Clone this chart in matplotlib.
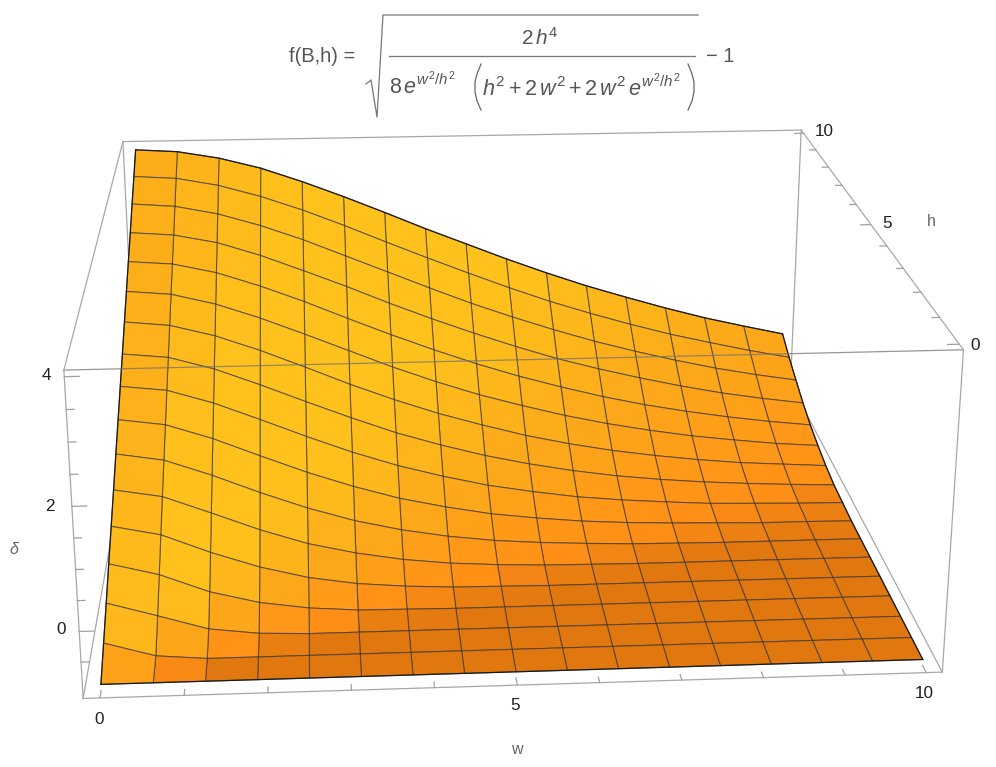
import numpy as np
import matplotlib
matplotlib.use('Agg')
import matplotlib.pyplot as plt
from matplotlib.lines import Line2D

plt.rcParams['font.family'] = ['Liberation Sans', 'DejaVu Sans']
plt.rcParams['mathtext.fontset'] = 'custom'
plt.rcParams['mathtext.rm'] = 'Liberation Sans'
plt.rcParams['mathtext.it'] = 'Liberation Sans:italic'

# mesh nodes of the surface
w_vals = [0, 0.625, 1.25, 1.875, 2.5, 3.125, 3.75, 4.375, 5, 5.625, 6.25, 6.875, 7.5, 8.125, 8.75, 9.375, 10]
h_vals = [0, 0.625, 1.25, 1.875, 2.5, 3.125, 3.75, 4.375, 5, 5.625, 6.25, 6.875, 7.5, 8.125, 8.75, 9.375, 10]

# delta read at each node, one row per h value, one column per w value
delta_h00 = [-1] * 17
delta_h01 = [-0.69, -0.93] + [-1] * 15
delta_h02 = [-0.38, -0.62, -0.87, -0.97] + [-1] * 13
delta_h03 = [-0.06, -0.27, -0.59, -0.80, -0.92, -0.98, -0.99] + [-1] * 10
delta_h04 = [0.25, 0.08, -0.25, -0.53, -0.74, -0.87, -0.94, -0.98, -0.99] + [-1] * 8
delta_h05 = [0.56, 0.42, 0.11, -0.21, -0.48, -0.67, -0.81, -0.90, -0.95, -0.98, -0.99] + [-1] * 6
delta_h06 = [0.88, 0.75, 0.46, 0.13, -0.17, -0.42, -0.61, -0.75, -0.85, -0.91, -0.95, -0.98, -0.99, -1, -1, -1, -1]
delta_h07 = [1.19, 1.08, 0.81, 0.48, 0.16, -0.12, -0.36, -0.54, -0.69, -0.79, -0.87, -0.92, -0.95, -0.97, -0.99, -0.99, -1]
delta_h08 = [1.5, 1.41, 1.16, 0.84, 0.51, 0.20, -0.07, -0.29, -0.48, -0.62, -0.74, -0.82, -0.88, -0.93, -0.95, -0.97, -0.98]
delta_h09 = [1.81, 1.73, 1.50, 1.19, 0.86, 0.54, 0.24, -0.01, -0.23, -0.41, -0.56, -0.68, -0.77, -0.84, -0.89, -0.93, -0.96]
delta_h10 = [2.13, 2.05, 1.84, 1.55, 1.22, 0.88, 0.57, 0.29, 0.05, -0.17, -0.35, -0.50, -0.62, -0.72, -0.80, -0.85, -0.90]
delta_h11 = [2.44, 2.37, 2.17, 1.89, 1.57, 1.24, 0.91, 0.61, 0.34, 0.11, -0.10, -0.28, -0.43, -0.56, -0.66, -0.75, -0.81]
delta_h12 = [2.75, 2.69, 2.51, 2.24, 1.93, 1.59, 1.26, 0.95, 0.66, 0.40, 0.17, -0.04, -0.22, -0.37, -0.50, -0.61, -0.70]
delta_h13 = [3.06, 3.00, 2.84, 2.58, 2.27, 1.95, 1.61, 1.29, 0.99, 0.71, 0.45, 0.23, 0.03, -0.15, -0.31, -0.44, -0.55]
delta_h14 = [3.38, 3.32, 3.16, 2.92, 2.63, 2.30, 1.97, 1.64, 1.32, 1.03, 0.76, 0.51, 0.29, 0.09, -0.09, -0.24, -0.37]
delta_h15 = [3.69, 3.64, 3.49, 3.26, 2.98, 2.66, 2.32, 1.99, 1.67, 1.36, 1.07, 0.81, 0.57, 0.35, 0.16, -0.02, -0.18]
delta_h16 = [4, 3.95, 3.81, 3.60, 3.32, 3.01, 2.68, 2.34, 2.02, 1.70, 1.40, 1.12, 0.87, 0.63, 0.41, 0.22, 0.04]

delta_rows = [delta_h00, delta_h01, delta_h02, delta_h03, delta_h04, delta_h05, delta_h06, delta_h07, delta_h08,
              delta_h09, delta_h10, delta_h11, delta_h12, delta_h13, delta_h14, delta_h15, delta_h16]

w_ticks = [0, 1, 2, 3, 4, 5, 6, 7, 8, 9, 10]
h_ticks = [0, 1, 2, 3, 4, 5, 6, 7, 8, 9, 10]
z_ticks = [-0.5, 0, 0.5, 1, 1.5, 2, 2.5, 3, 3.5, 4]

# box limits
W0, W1 = -0.2, 10.2
H0, H1 = -0.2, 10.2
Z0, Z1 = -1.1, 4.1

# surface colour against the tilt of each cell
tilt_stops = [0, 0.1, 0.35, 0.5, 0.68, 0.9]
red_stops = [225, 255, 255, 252, 255, 255]
green_stops = [120, 143, 160, 171, 192, 200]
blue_stops = [15, 22, 25, 26, 28, 30]

W, H = np.meshgrid(w_vals, h_vals)
Z = np.array(delta_rows)

dzdh = (Z[1:, :-1] + Z[1:, 1:] - Z[:-1, :-1] - Z[:-1, 1:]) / 2 / 0.625
dzdw = (Z[:-1, 1:] + Z[1:, 1:] - Z[:-1, :-1] - Z[1:, :-1]) / 2 / 0.625
tilt = dzdh - 0.3 * dzdw
cols = np.zeros(tilt.shape + (4,))
cols[..., 0] = np.interp(tilt, tilt_stops, red_stops) / 255
cols[..., 1] = np.interp(tilt, tilt_stops, green_stops) / 255
cols[..., 2] = np.interp(tilt, tilt_stops, blue_stops) / 255
cols[..., 3] = 1

fig = plt.figure(figsize=(9.96, 7.67), dpi=100)
S = 1000
ax = fig.add_axes([-25.5 / 996, -124.5 / 767, S / 996, S / 767], projection='3d', computed_zorder=False)
ax.set_proj_type('persp', focal_length=0.478)
ax.view_init(elev=19.7, azim=-93.9, roll=0)
ax.set_box_aspect((1, 1, 0.4), zoom=1.084)
ax.set_xlim(W0, W1, view_margin=0)
ax.set_ylim(H0, H1, view_margin=0)
ax.set_zlim(Z0, Z1, view_margin=0)
ax.set_axis_off()
ax.patch.set_alpha(0)

box_col = '#a8a8a8'
tick_col = '#a0a0a0'


def edge(xs, ys, zs, z=1, col=box_col):
    ax.plot(xs, ys, zs, color=col, lw=0.9, zorder=z, clip_on=False)


# box edges behind the surface
edge([W0, W1], [H0, H0], [Z0, Z0])
edge([W0, W1], [H1, H1], [Z0, Z0])
edge([W0, W0], [H0, H1], [Z0, Z0])
edge([W1, W1], [H0, H1], [Z0, Z0])
edge([W0, W0], [H1, H1], [Z0, Z1])
edge([W1, W1], [H1, H1], [Z0, Z1])

surf = ax.plot_surface(W, H, Z, rstride=1, cstride=1, facecolors=cols, shade=False, zorder=2, antialiased=True)
surf.set_edgecolor((0.15, 0.16, 0.2, 0.6))
surf.set_linewidth(0.8)

# dark outline of the surface
outline = dict(color='#1a1a1a', lw=0.9, zorder=2.5, clip_on=False)
ax.plot(W[0], H[0], Z[0], **outline)
ax.plot(W[-1], H[-1], Z[-1], **outline)
ax.plot(W[:, 0], H[:, 0], Z[:, 0], **outline)
ax.plot(W[:, -1], H[:, -1], Z[:, -1], **outline)

# box edges in front of the surface
edge([W0, W1], [H0, H0], [Z1, Z1], z=3, col=(0.45, 0.45, 0.45, 0.75))
edge([W0, W1], [H1, H1], [Z1, Z1], z=3)
edge([W0, W0], [H0, H1], [Z1, Z1], z=3)
edge([W1, W1], [H0, H1], [Z1, Z1], z=3)
edge([W0, W0], [H0, H0], [Z0, Z1], z=3)
edge([W1, W1], [H0, H0], [Z0, Z1], z=3)

# ticks
for t in w_ticks:
    d = 0.2 if t % 5 == 0 else 0.15
    edge([t, t], [H0, H0 + d], [Z0, Z0], z=3, col=tick_col)
for t in h_ticks:
    d = 0.14 if t % 5 == 0 else 0.09
    edge([W1, W1 - d], [t, t], [Z1, Z1], z=3, col=tick_col)
for t in z_ticks:
    d = 0.17 if t % 2 == 0 else 0.09
    edge([W0, W0 + d], [H0, H0], [t, t], z=3, col=tick_col)


def label(px, py, s, col='#1f1f1f', size=12.3, ha='center', **kw):
    fig.text(px / 996, 1 - py / 767, s, color=col, fontsize=size, ha=ha, va='center', **kw)


def stroke(xs, ys, col='#666666', lw=0.9):
    fig.add_artist(Line2D([x / 996 for x in xs], [1 - y / 767 for y in ys],
                          transform=fig.transFigure, color=col, lw=lw))


label(99, 719, '0')
label(515, 706, '5')
label(924, 694, '10')
label(46, 376, '4')
label(50, 506, '2')
label(61, 630, '0')
label(975, 345, '0')
label(887, 224, '5')
label(824, 131, '10')
label(517, 750, 'w', col='#666666', size=11.5)
label(931, 221, 'h', col='#666666', size=11.5)
label(14, 549, 'δ', col='#666666', size=11.5, style='italic')

# formula above the plot, built from pieces so the radical can be as tall as the reference
formula_col = '#555555'
label(322, 57, 'f(B,h) =', col=formula_col, size=14.5)
label(540, 38, r'$2\,h^4$', col=formula_col, size=15)
stroke([389, 695], [56, 56], col='#777777')
label(389, 85, r'$8\,e^{w^2/h^2}$', col=formula_col, size=15.5, ha='left')
label(482, 87, r'$h^2+2\,w^2+2\,w^2\,e^{w^2/h^2}$', col=formula_col, size=15.6, ha='left')
stroke([481, 477, 475, 475, 477, 481], [64, 74, 82, 92, 101, 110])
stroke([688, 692, 694, 694, 692, 688], [64, 74, 82, 92, 101, 110])
stroke([366, 371, 377, 383, 698], [84, 80, 117, 15, 15], col='#777777')
label(720, 56, '− 1', col=formula_col, size=14.5)

fig.savefig('out.png', dpi=100)
